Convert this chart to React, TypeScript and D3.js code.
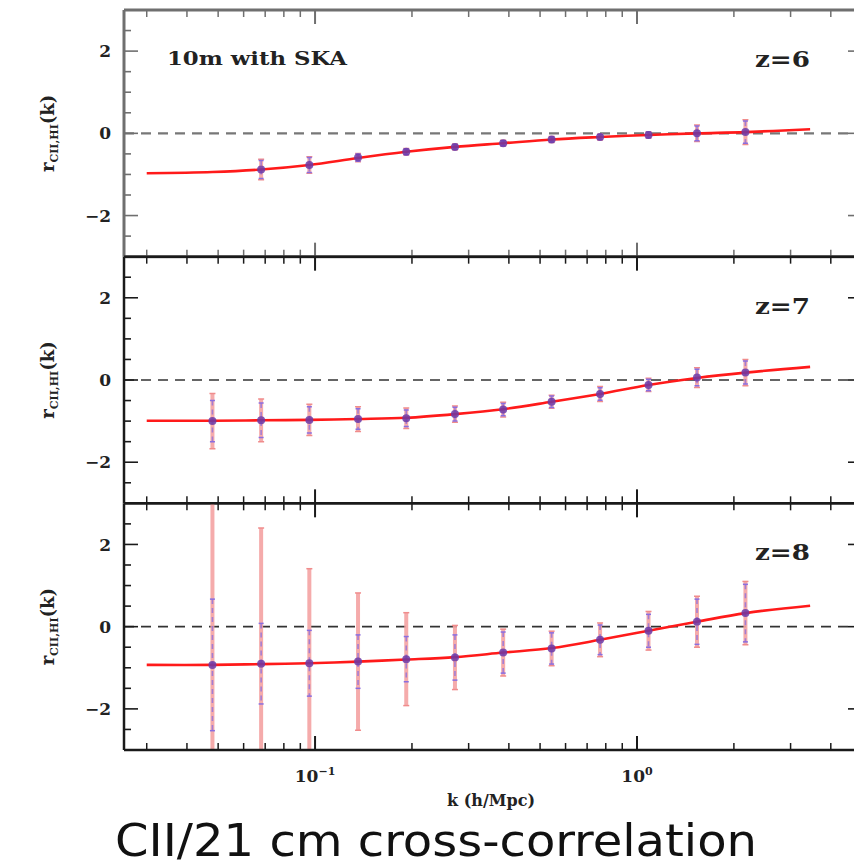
import React from 'react';
import * as d3 from 'd3';

// ---- data ----
const kValues = [0.048, 0.068, 0.096, 0.136, 0.192, 0.272, 0.384, 0.543, 0.768, 1.086, 1.536, 2.172];
const modelK = [0.03, 0.048, 0.068, 0.096, 0.136, 0.192, 0.272, 0.384, 0.543, 0.768, 1.086, 1.536, 2.172, 3.45];

const panelLabels = ['z=6', 'z=7', 'z=8'];

const z6Values = [null, -0.88, -0.77, -0.59, -0.45, -0.33, -0.24, -0.15, -0.09, -0.04, 0.0, 0.03];
const z6ErrRed = [null, 0.25, 0.2, 0.1, 0.08, 0.07, 0.07, 0.07, 0.07, 0.08, 0.2, 0.3];
const z6ErrBlue = [null, 0.22, 0.18, 0.09, 0.07, 0.06, 0.06, 0.06, 0.06, 0.07, 0.18, 0.27];
const z6Model = [-0.97, -0.94, -0.88, -0.77, -0.6, -0.45, -0.33, -0.24, -0.15, -0.09, -0.04, 0.0, 0.03, 0.1];

const z7Values = [-1.0, -0.98, -0.97, -0.95, -0.93, -0.83, -0.72, -0.53, -0.34, -0.12, 0.06, 0.18];
const z7ErrRed = [0.67, 0.52, 0.38, 0.3, 0.25, 0.2, 0.18, 0.16, 0.18, 0.16, 0.24, 0.32];
const z7ErrBlue = [0.5, 0.42, 0.32, 0.25, 0.2, 0.17, 0.15, 0.14, 0.15, 0.14, 0.2, 0.28];
const z7Model = [-0.99, -0.99, -0.98, -0.97, -0.95, -0.92, -0.83, -0.71, -0.53, -0.34, -0.12, 0.05, 0.18, 0.32];

const z8Values = [-0.93, -0.9, -0.89, -0.85, -0.79, -0.75, -0.63, -0.53, -0.32, -0.1, 0.12, 0.33];
const z8ErrRed = [4.5, 3.3, 2.3, 1.67, 1.13, 0.78, 0.57, 0.42, 0.41, 0.47, 0.62, 0.77];
const z8ErrBlue = [1.6, 0.98, 0.8, 0.65, 0.55, 0.55, 0.5, 0.38, 0.36, 0.4, 0.55, 0.7];
const z8Model = [-0.93, -0.93, -0.91, -0.89, -0.85, -0.8, -0.74, -0.63, -0.52, -0.32, -0.1, 0.12, 0.33, 0.51];

const yTickLabels = [2, 0, -2];
const xTickLabels = [{ k: 0.1, base: '10', exp: '−1' }, { k: 1, base: '10', exp: '0' }];

const panels = [
  { label: panelLabels[0], values: z6Values, errRed: z6ErrRed, errBlue: z6ErrBlue, model: z6Model },
  { label: panelLabels[1], values: z7Values, errRed: z7ErrRed, errBlue: z7ErrBlue, model: z7Model },
  { label: panelLabels[2], values: z8Values, errRed: z8ErrRed, errBlue: z8ErrBlue, model: z8Model },
];

// ---- layout ----
const W = 854, H = 868;
const left = 124, right = 862;
const top = 10, bottom = 750;
const panelH = (bottom - top) / 3;

const x = d3.scaleLog().domain([0.0255, 5.0]).range([left, right]);

const serif = "'DejaVu Serif', 'Liberation Serif', serif";

function xTicks() {
  const out: { k: number; major: boolean }[] = [];
  for (let e = -2; e <= 1; e++) {
    for (let m = 1; m <= 9; m++) {
      const k = m * Math.pow(10, e);
      if (k > x.domain()[0] && k < x.domain()[1]) out.push({ k, major: m === 1 });
    }
  }
  return out;
}
const yTickVals = d3.range(-2.5, 2.51, 0.5);

function Panel({ p, i }: any) {
  const y0 = top + i * panelH;
  const y = d3.scaleLinear().domain([-3, 3]).range([y0 + panelH, y0]);
  const line = d3.line<number>()
    .x((_, j) => x(modelK[j]))
    .y((d) => y(d))
    .curve(d3.curveCatmullRom);
  const clipId = `clip${i}`;
  const frameColor = i === 0 ? '#6f6f6f' : '#1a1a1a';
  const pts = kValues.map((k, j) => ({ k, v: p.values[j], er: p.errRed[j], eb: p.errBlue[j] })).filter((d) => d.v !== null);
  return (
    <g>
      <defs>
        <clipPath id={clipId}>
          <rect x={left} y={y0} width={W - left} height={panelH} />
        </clipPath>
      </defs>
      {/* zero line */}
      <line x1={left} x2={W} y1={y(0)} y2={y(0)} stroke={i === 0 ? '#777' : '#333'} strokeWidth={i === 0 ? 2.2 : 1.6} strokeDasharray="10,7" />
      <g clipPath={`url(#${clipId})`}>
        {pts.map((d, j) => (
          <g key={'r' + j}>
            <line x1={x(d.k)} x2={x(d.k)} y1={y(d.v + d.er)} y2={y(d.v - d.er)} stroke="#f5a3a3" strokeWidth={4} opacity={0.9} />
            <line x1={x(d.k) - 3} x2={x(d.k) + 3} y1={y(d.v + d.er)} y2={y(d.v + d.er)} stroke="#f08c8c" strokeWidth={1.5} />
            <line x1={x(d.k) - 3} x2={x(d.k) + 3} y1={y(d.v - d.er)} y2={y(d.v - d.er)} stroke="#f08c8c" strokeWidth={1.5} />
          </g>
        ))}
        {pts.map((d, j) => (
          <g key={'b' + j}>
            <line x1={x(d.k)} x2={x(d.k)} y1={y(d.v + d.eb)} y2={y(d.v - d.eb)} stroke="#8a6ee0" strokeWidth={1.6} strokeDasharray="5,4" opacity={0.75} />
            <line x1={x(d.k) - 2.5} x2={x(d.k) + 2.5} y1={y(d.v + d.eb)} y2={y(d.v + d.eb)} stroke="#8a6ee0" strokeWidth={1.5} />
            <line x1={x(d.k) - 2.5} x2={x(d.k) + 2.5} y1={y(d.v - d.eb)} y2={y(d.v - d.eb)} stroke="#8a6ee0" strokeWidth={1.5} />
          </g>
        ))}
        <path d={line(p.model) || ''} fill="none" stroke="#ff1a1a" strokeWidth={2.6} />
        {pts.map((d, j) => (
          <circle key={'c' + j} cx={x(d.k)} cy={y(d.v)} r={4} fill="#6b3aa8" opacity={0.85} />
        ))}
      </g>
      {/* x ticks top & bottom */}
      {xTicks().map((t, j) => {
        const len = t.major ? 14 : 7;
        const xx = x(t.k);
        return (
          <g key={'xt' + j} stroke={frameColor} strokeWidth={t.major ? 2 : 1.5}>
            <line x1={xx} x2={xx} y1={y0} y2={y0 + len} />
            <line x1={xx} x2={xx} y1={y0 + panelH} y2={y0 + panelH - len} />
          </g>
        );
      })}
      {/* y ticks left; right-side ticks drawn as short stubs at the picture edge */}
      {yTickVals.map((v, j) => {
        const major = Math.abs(v % 2) < 1e-6;
        const len = major ? 14 : 7;
        return (
          <g key={'yt' + j} stroke={frameColor} strokeWidth={1.6}>
            <line x1={left} x2={left + len} y1={y(v)} y2={y(v)} />
            {major && <line x1={W} x2={W - 6} y1={y(v)} y2={y(v)} />}
          </g>
        );
      })}
      {/* frame: left, top, bottom (right edge lies outside the picture) */}
      <g stroke={frameColor} strokeWidth={i === 0 ? 3 : 2.5}>
        <line x1={left} x2={left} y1={y0} y2={y0 + panelH} />
        <line x1={left} x2={W} y1={y0} y2={y0} />
        <line x1={left} x2={W} y1={y0 + panelH} y2={y0 + panelH} />
      </g>
      {/* y tick labels */}
      {yTickLabels.map((v) => (
        <text key={'yl' + v} x={111} y={y(v)} dy="0.36em" textAnchor="end" fontFamily={serif} fontWeight="bold" fontSize={17} fill="#222">
          {v < 0 ? '−' + Math.abs(v) : String(v)}
        </text>
      ))}
      {/* y axis label */}
      <text transform={`translate(54,${y(0)}) rotate(-90)`} textAnchor="middle" fontFamily={serif} fontWeight="bold" fontSize={18} fill="#222">
        <tspan>r</tspan>
        <tspan fontSize={11} dy="4">CII,HI</tspan>
        <tspan dy="-4">(k)</tspan>
      </text>
      {/* panel label */}
      <text x={810} y={y0 + 57} textAnchor="end" fontFamily={serif} fontWeight="bold" fontSize={22} fill="#222" textLength={55} lengthAdjust="spacingAndGlyphs">
        {p.label}
      </text>
      {i === 0 && (
        <text x={167} y={y0 + 55} fontFamily={serif} fontWeight="bold" fontSize={18} fill="#222" textLength={180} lengthAdjust="spacingAndGlyphs">
          10m with SKA
        </text>
      )}
    </g>
  );
}

export default function App() {
  return (
    <div style={{ position: 'absolute', left: 0, top: 0, width: W, height: H, overflow: 'hidden' }}>
      <svg width={W} height={H} style={{ display: 'block', background: '#fff' }}>
        <rect x={0} y={0} width={W} height={H} fill="#fff" />
        {panels.map((p, i) => (
          <Panel key={i} p={p} i={i} />
        ))}
        {xTickLabels.map((t) => (
          <text key={t.exp} x={x(t.k)} y={782} textAnchor="middle" fontFamily={serif} fontWeight="bold" fontSize={17} fill="#222">
            {t.base}
            <tspan fontSize={11} dy="-7">{t.exp}</tspan>
          </text>
        ))}
        <text x={491} y={806} textAnchor="middle" fontFamily={serif} fontWeight="bold" fontSize={16} fill="#222">
          k (h/Mpc)
        </text>
        <text x={115} y={856} fontFamily="'DejaVu Sans Condensed', 'DejaVu Sans', sans-serif" fontSize={45} fill="#111" textLength={642} lengthAdjust="spacingAndGlyphs">
          CII/21 cm cross-correlation
        </text>
      </svg>
    </div>
  );
}
